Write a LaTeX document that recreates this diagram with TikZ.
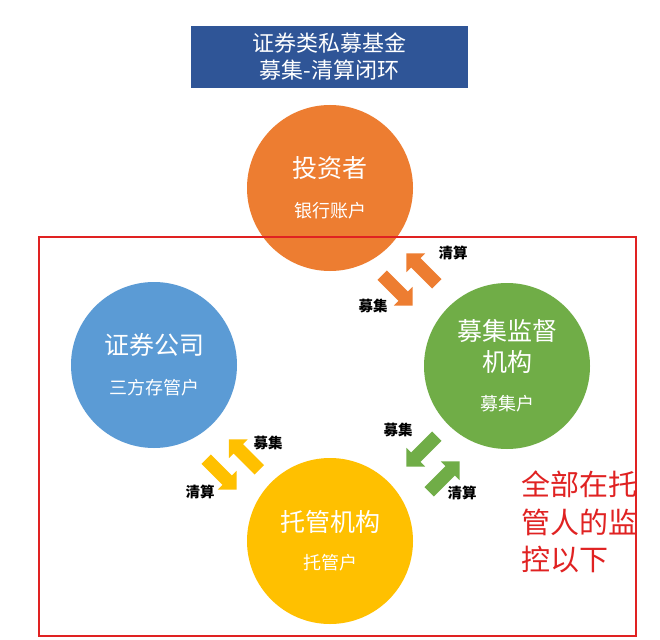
\documentclass[tikz,border=0pt]{standalone}
\usepackage{fontspec}
\setmainfont{Noto Sans CJK SC}
\usepackage{tikz}
\usetikzlibrary{shapes.arrows, positioning}
\definecolor{titleblue}{RGB}{47,85,151}
\definecolor{invorange}{RGB}{237,125,49}
\definecolor{supgreen}{RGB}{112,173,71}
\definecolor{secblue}{RGB}{91,155,213}
\definecolor{custyellow}{RGB}{255,192,0}
\definecolor{framered}{RGB}{224,34,34}
\newcommand{\acct}[1]{{\fontsize{18pt}{22pt}\selectfont #1}}

\begin{document}
\begin{tikzpicture}[x=1pt, y=-1pt, every node/.style={align=center}]
    \tikzset{ball/.style={circle, minimum size=166pt, inner sep=0pt, text=white, font=\fontsize{25pt}{31pt}\selectfont},
      flow/.style={single arrow, draw=none, minimum height=43pt, minimum width=26pt, inner xsep=0pt, inner ysep=6.5pt, single arrow head extend=6.5pt, anchor=tail},
      tag/.style={inner sep=0pt, font=\fontsize{14.5pt}{16pt}\selectfont\bfseries}}
    \fill[white] (0,0) rectangle (660,639);
    \useasboundingbox (0,0) rectangle (660,639);
    \node[fill=titleblue, text=white, minimum width=277pt, minimum height=62pt, inner sep=0pt, font=\fontsize{22pt}{27pt}\selectfont] (title) at (329.5,57) {证券类私募基金\\募集-清算闭环};
    \node[ball, fill=invorange] (investor) at (330,188) {投资者\\[9pt]\acct{银行账户}};
    \node[ball, fill=secblue] (broker) at (154,365) {证券公司\\[9pt]\acct{三方存管户}};
    \node[ball, fill=supgreen] (supervisor) at (507,366) {募集监督\\机构\\[8pt]\acct{募集户}};
    \node[ball, fill=custyellow] (custodian) at (330,541) {托管机构\\[7pt]\acct{托管户}};
    \node[draw=framered, line width=2pt, minimum width=597pt, minimum height=399pt, inner sep=0pt] (monitor) at (337.5,436.5) {};
    \node[text=framered, anchor=west, align=left, inner sep=0pt, font=\fontsize{29pt}{37.5pt}\selectfont] (note) at (521,522) {全部在托\\管人的监\\控以下};
    \node[flow, fill=invorange, rotate=135] (invclear) at (437,284) {};
    \node[flow, fill=invorange, rotate=-45] (invraise) at (382,275) {};
    \node[flow, fill=custyellow, rotate=135] (custraise) at (259.5,470) {};
    \node[flow, fill=custyellow, rotate=-45] (custclear) at (206,459) {};
    \node[flow, fill=supgreen, rotate=-135] (supraise) at (437,436) {};
    \node[flow, fill=supgreen, rotate=45] (supclear) at (429,492) {};
    \node[tag] (invcleartxt) at (453,253) {清算};
    \node[tag] (invraisetxt) at (373,306) {募集};
    \node[tag] (custraisetxt) at (268,443) {募集};
    \node[tag] (custcleartxt) at (200,492) {清算};
    \node[tag] (supraisetxt) at (398,430) {募集};
    \node[tag] (supcleartxt) at (462,493) {清算};
  \end{tikzpicture}
\end{document}
